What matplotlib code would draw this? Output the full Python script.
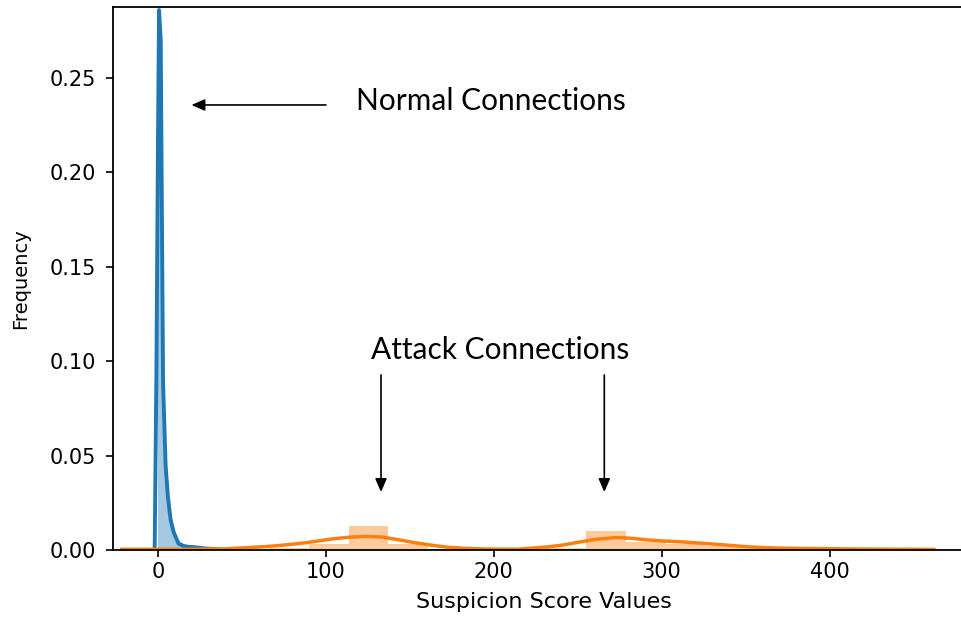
import numpy as np
import matplotlib
matplotlib.use("Agg")
import matplotlib.pyplot as plt

# Density curves (score value, density)
normal_kde_x = [-2.0, -1.0, 0.0, 0.6, 1.6, 3.0, 4.5, 5.9, 7.5, 9.3, 12.2, 16.0, 22.7, 28.0, 34.5, 40.0]
normal_kde_y = [0.0, 0.09, 0.22, 0.286, 0.27, 0.0885, 0.045, 0.028, 0.016, 0.0095, 0.0034, 0.0018, 0.0014, 0.0008, 0.0005, 0.0]

attack_kde_x = [-21.6, 0, 20, 40, 64, 75, 87.7, 103.3, 114, 124, 134, 142.8, 152, 162.4, 172, 182, 195, 213.8,
                231.6, 241, 251, 262, 273, 282, 290.6, 300, 310, 320, 330, 340, 349.8, 360, 369.5, 385,
                399, 420, 440, 462]
attack_kde_y = [0.0004, 0.0004, 0.0004, 0.0006, 0.0018, 0.0026, 0.0038, 0.0058, 0.0068, 0.0072, 0.0068, 0.0055, 0.0040,
                0.0026, 0.0015, 0.0009, 0.0005, 0.0004,
                0.0016, 0.0026, 0.0042, 0.0058, 0.0066, 0.0062, 0.0054, 0.0048, 0.0044, 0.0038, 0.0032, 0.0025,
                0.0018, 0.0013, 0.0010, 0.0008, 0.0007, 0.0005, 0.0004, 0.0003]

# Histogram bins (left edges, widths, densities)
normal_bin_left = [0.0, 1.5, 3.0, 4.5, 6.0, 7.5, 9.0, 10.5, 12.0, 18.0, 24.0, 30.0]
normal_bin_width = [1.5, 1.5, 1.5, 1.5, 1.5, 1.5, 1.5, 1.5, 6.0, 6.0, 6.0, 6.0]
normal_bin_height = [0.28, 0.12, 0.06, 0.035, 0.022, 0.014, 0.009, 0.006, 0.003, 0.0015, 0.001, 0.0012]

attack_bin_left = [-4.5, 19.1, 42.7, 66.3, 89.9, 113.5, 137.1, 160.7, 184.3, 207.9, 231.5, 255.1,
                   278.7, 302.3, 325.9, 349.5, 373.1, 396.7, 420.3]
attack_bin_width = 23.6
attack_bin_height = [0.0004, 0.0, 0.0002, 0.0012, 0.0030, 0.0127, 0.0030, 0.0006, 0.0, 0.0, 0.0012, 0.0099,
                     0.0040, 0.0030, 0.0020, 0.0009, 0.0006, 0.0005, 0.0003]

x_ticks = [0, 100, 200, 300, 400]
y_ticks = [0.00, 0.05, 0.10, 0.15, 0.20, 0.25]

blue = "#1f77b4"
orange = "#ff7f0e"

fig = plt.figure(figsize=(9.62, 6.17), dpi=100)
ax = fig.add_axes([0.1175, 0.1086, 0.895, 0.8801])

ax.bar(normal_bin_left, normal_bin_height, width=normal_bin_width, align="edge",
       color=blue, alpha=0.4, linewidth=0)
ax.bar(attack_bin_left, attack_bin_height, width=attack_bin_width, align="edge",
       color=orange, alpha=0.4, linewidth=0)
ax.plot(normal_kde_x, normal_kde_y, color=blue, lw=2.8, solid_joinstyle="round")
ax.plot(attack_kde_x, attack_kde_y, color=orange, lw=2.5, solid_joinstyle="round")

ax.set_xlim(-26.8, 486)
ax.set_ylim(0, 0.2876)
ax.set_xticks(x_ticks)
ax.set_xticklabels([str(t) for t in x_ticks])
ax.set_yticks(y_ticks)
ax.set_yticklabels([f"{t:.2f}" for t in y_ticks])
ax.tick_params(labelsize=15, length=5, width=1.2)
ax.tick_params(axis="y", pad=7)
for s in ax.spines.values():
    s.set_linewidth(1.3)

ax.set_xlabel("Suspicion Score Values", fontsize=16, labelpad=7)
ax.set_ylabel("Frequency", fontsize=14, labelpad=14)

ann_font = "Lato"
ax.text(118.0, 0.2378, "Normal Connections", fontsize=21.5, family=ann_font, ha="left", va="center")
ax.text(126.9, 0.1059, "Attack Connections", fontsize=21.5, family=ann_font, ha="left", va="center")

arrow = dict(arrowstyle="-|>,head_length=0.8,head_width=0.35", color="black", lw=1.2,
             shrinkA=0, shrinkB=0)
ax.annotate("", xy=(19.9, 0.2357), xytext=(100.0, 0.2357), arrowprops=arrow)
ax.annotate("", xy=(132.8, 0.0307), xytext=(132.8, 0.0927), arrowprops=arrow)
ax.annotate("", xy=(265.8, 0.0307), xytext=(265.8, 0.0927), arrowprops=arrow)

fig.savefig("out.png", dpi=100)
